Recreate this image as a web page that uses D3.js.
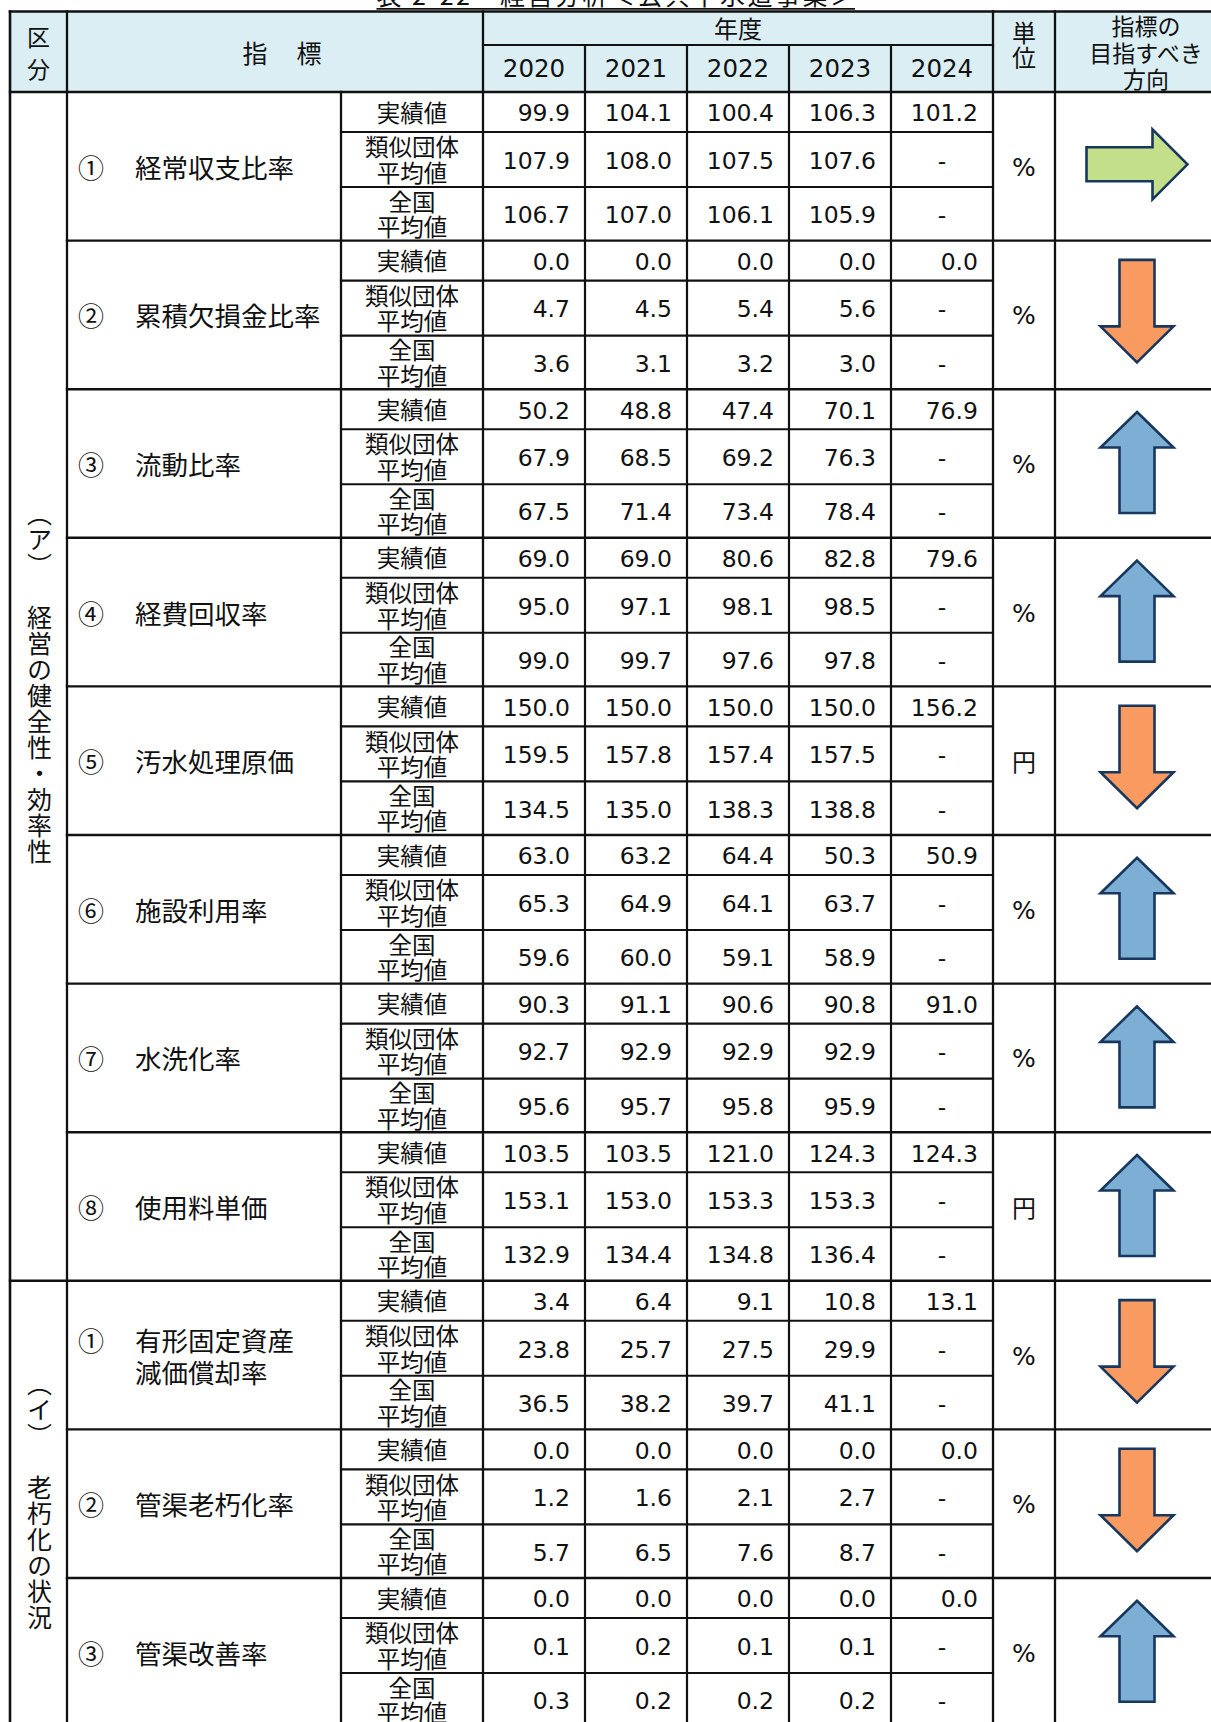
<!DOCTYPE html>
<html><head><meta charset="utf-8">
<script src="https://cdn.jsdelivr.net/npm/d3@7"></script>
<style>body{margin:0;background:#fff;overflow:hidden}svg{display:block}text{text-spacing-trim:space-all}</style>
</head><body><svg id="c" width="1211" height="1722"></svg>
<script>
// ---------- data ----------
const title = "表 2-22　経営分析＜公共下水道事業＞";
const years = [2020, 2021, 2022, 2023, 2024];
const headerSection = ["区", "分"];
const headerIndicator = "指　標";
const headerYear = "年度";
const headerUnit = ["単", "位"];
const headerDirection = ["指標の", "目指すべき", "方向"];
const sections = [
  { label: "（ア）　経営の健全性・効率性", from: 0, to: 7 },
  { label: "（イ）　老朽化の状況", from: 8, to: 10 }
];
const indicatorNo = ["①", "②", "③", "④", "⑤", "⑥", "⑦", "⑧", "①", "②", "③"];
const indicatorNames = [
  ["経常収支比率"], ["累積欠損金比率"], ["流動比率"], ["経費回収率"],
  ["汚水処理原価"], ["施設利用率"], ["水洗化率"], ["使用料単価"],
  ["有形固定資産", "減価償却率"], ["管渠老朽化率"], ["管渠改善率"]
];
const units = ["%", "%", "%", "%", "円", "%", "%", "円", "%", "%", "%"];
const directions = ["right", "down", "up", "up", "down", "up", "up", "up", "down", "down", "up"];
const rowLabels = [["実績値"], ["類似団体", "平均値"], ["全国", "平均値"]];
const actualValues = [
  [99.9, 104.1, 100.4, 106.3, 101.2],
  [0.0, 0.0, 0.0, 0.0, 0.0],
  [50.2, 48.8, 47.4, 70.1, 76.9],
  [69.0, 69.0, 80.6, 82.8, 79.6],
  [150.0, 150.0, 150.0, 150.0, 156.2],
  [63.0, 63.2, 64.4, 50.3, 50.9],
  [90.3, 91.1, 90.6, 90.8, 91.0],
  [103.5, 103.5, 121.0, 124.3, 124.3],
  [3.4, 6.4, 9.1, 10.8, 13.1],
  [0.0, 0.0, 0.0, 0.0, 0.0],
  [0.0, 0.0, 0.0, 0.0, 0.0]
];
const similarValues = [
  [107.9, 108.0, 107.5, 107.6, null],
  [4.7, 4.5, 5.4, 5.6, null],
  [67.9, 68.5, 69.2, 76.3, null],
  [95.0, 97.1, 98.1, 98.5, null],
  [159.5, 157.8, 157.4, 157.5, null],
  [65.3, 64.9, 64.1, 63.7, null],
  [92.7, 92.9, 92.9, 92.9, null],
  [153.1, 153.0, 153.3, 153.3, null],
  [23.8, 25.7, 27.5, 29.9, null],
  [1.2, 1.6, 2.1, 2.7, null],
  [0.1, 0.2, 0.1, 0.1, null]
];
const nationalValues = [
  [106.7, 107.0, 106.1, 105.9, null],
  [3.6, 3.1, 3.2, 3.0, null],
  [67.5, 71.4, 73.4, 78.4, null],
  [99.0, 99.7, 97.6, 97.8, null],
  [134.5, 135.0, 138.3, 138.8, null],
  [59.6, 60.0, 59.1, 58.9, null],
  [95.6, 95.7, 95.8, 95.9, null],
  [132.9, 134.4, 134.8, 136.4, null],
  [36.5, 38.2, 39.7, 41.1, null],
  [5.7, 6.5, 7.6, 8.7, null],
  [0.3, 0.2, 0.2, 0.2, null]
];

// ---------- layout ----------
const L = { left: 10, sec: 67, lab: 341, sub: 483, unit: 993, dir: 1055, right: 1237,
            top: 11.5, split: 45, head: 92, groupH: 148.6 };
const subTop = [0, 40, 95], subH = [40, 55, 53.6];
const JP = "'Noto Sans CJK JP', 'Noto Sans CJK SC', sans-serif";
const NUM = "'DejaVu Sans', Verdana, sans-serif";
const INK = "#111";
const arrowColors = { up: "#7DAFD5", down: "#F99A60", right: "#C4DF8A" };
const arrowStroke = "#17375E";

const svg = d3.select("#c");
const n = indicatorNames.length;
const x = d3.scaleBand().domain(years).range([L.sub, L.unit]);
const gy = d3.scaleBand().domain(d3.range(n)).range([L.head, L.head + n * L.groupH]);
const bottom = 1722 + 20;

// multi-line text as one element with tspans
function multiLine(parent, lines, cx, cy, lh, size, family) {
  const t = parent.append("text").attr("x", cx).attr("y", cy)
    .attr("text-anchor", "middle").attr("font-family", family || JP)
    .attr("font-size", size).attr("fill", INK);
  lines.forEach((s, k) => t.append("tspan").attr("x", cx)
    .attr("y", cy + (k - (lines.length - 1) / 2) * lh).attr("dominant-baseline", "central").text(s));
  return t;
}

// header background
svg.append("rect").attr("x", L.left).attr("y", L.top)
  .attr("width", L.right - L.left).attr("height", L.head - L.top).attr("fill", "#DAEEF3");

// title (top cut off)
const tX0 = 376.5, tX1 = 855;
svg.append("text").attr("x", tX0).attr("y", 5).attr("font-family", JP).attr("font-size", 25)
  .attr("fill", INK).attr("textLength", tX1 - tX0).attr("lengthAdjust", "spacing").text(title);
svg.append("line").attr("x1", tX0).attr("x2", tX1).attr("y1", 8.8).attr("y2", 8.8)
  .attr("stroke", INK).attr("stroke-width", 1.8);

// ---------- grid lines ----------
const segs = [];
segs.push([L.left, L.top, L.right, L.top, 2.6]);
segs.push([L.left, L.head, L.right, L.head, 2.4]);
segs.push([L.sub, L.split, L.unit, L.split, 2.2]);
const sectionStarts = new Set(sections.map(s => s.from));
d3.range(1, n).forEach(i => {
  segs.push([sectionStarts.has(i) ? L.left : L.sec, gy(i), L.right, gy(i), 2.4]);
});
d3.range(n).forEach(i => {
  [1, 2].forEach(k => segs.push([L.lab, gy(i) + subTop[k], L.unit, gy(i) + subTop[k], 2.1]));
});
[L.left, L.sec, L.sub, L.unit, L.dir, L.right].forEach(xx => segs.push([xx, L.top, xx, bottom, xx === L.left ? 2.6 : 2.3]));
segs.push([L.lab, L.head, L.lab, bottom, 2.3]);
years.slice(1).forEach(yr => segs.push([x(yr), L.split, x(yr), bottom, 2.2]));

svg.append("g").selectAll("line").data(segs).join("line")
  .attr("x1", d => d[0]).attr("y1", d => d[1]).attr("x2", d => d[2]).attr("y2", d => d[3])
  .attr("stroke", INK).attr("stroke-width", d => d[4]).attr("stroke-linecap", "square");

// ---------- header text ----------
const hdr = svg.append("g");
multiLine(hdr, headerSection, (L.left + L.sec) / 2, 52, 32, 23);
multiLine(hdr, [headerIndicator], (L.sec + L.sub) / 2 + 8, 52, 0, 25).attr("letter-spacing", 2);
multiLine(hdr, [headerYear], (L.sub + L.unit) / 2, 27, 0, 24);
multiLine(hdr, headerUnit, (L.unit + L.dir) / 2, 43.5, 25, 24);
multiLine(hdr, headerDirection, (L.dir + L.right) / 2, 51.5, 26.5, 23);
svg.append("g").selectAll("text").data(years).join("text")
  .attr("x", d => x(d) + x.bandwidth() / 2).attr("y", 77.3)
  .attr("text-anchor", "middle").attr("font-family", NUM).attr("font-size", 24.5).attr("fill", INK)
  .text(d => d);

// ---------- section labels (vertical writing) ----------
sections.forEach(s => {
  const cy = (gy(s.from) + gy(s.to) + L.groupH) / 2 - 3;
  svg.append("text")
    .attr("x", (L.left + L.sec) / 2 + 1).attr("y", cy)
    .attr("text-anchor", "middle")
    .style("writing-mode", "vertical-rl")
    .style("text-spacing-trim", "space-all")
    .attr("letter-spacing", 1)
    .attr("font-family", JP).attr("font-size", 25).attr("fill", INK).text(s.label);
});

// ---------- indicator groups ----------
const seriesRows = [actualValues, similarValues, nationalValues];
d3.range(n).forEach(i => {
  const g0 = gy(i), gc = g0 + L.groupH / 2;
  const grp = svg.append("g");
  // main label
  const lines = indicatorNames[i];
  const lh = 32;
  const firstY = gc - (lines.length - 1) * lh / 2;
  grp.append("text").attr("x", 78).attr("y", firstY).attr("dominant-baseline", "central")
    .attr("font-family", JP).attr("font-size", 26).attr("fill", INK).text(indicatorNo[i]);
  const nm = grp.append("text").attr("font-family", JP).attr("font-size", 26.5).attr("fill", INK);
  lines.forEach((s, k) => nm.append("tspan").attr("x", 135).attr("y", firstY + k * lh)
    .attr("dominant-baseline", "central").text(s));
  // sub rows
  rowLabels.forEach((rl, r) => {
    const rc = g0 + subTop[r] + subH[r] / 2;
    multiLine(grp, rl, (L.lab + L.sub) / 2, rc - 0.5, 25.5, 23.5);
    const vals = seriesRows[r][i];
    grp.append("g").selectAll("text").data(years.map((yr, k) => ({ yr, v: vals[k] }))).join("text")
      .attr("x", d => d.v == null ? x(d.yr) + x.bandwidth() / 2 : x(d.yr) + x.bandwidth() - 15)
      .attr("y", rc + 9.3)
      .attr("text-anchor", d => d.v == null ? "middle" : "end")
      .attr("font-family", NUM).attr("font-size", 23.5).attr("fill", INK)
      .text(d => d.v == null ? "-" : d3.format(".1f")(d.v));
  });
  // unit
  const isPct = units[i] === "%";
  grp.append("text").attr("x", (L.unit + L.dir) / 2).attr("y", isPct ? gc + 9.5 : gc)
    .attr("text-anchor", "middle").attr("dominant-baseline", isPct ? "auto" : "central")
    .attr("font-family", isPct ? NUM : JP).attr("font-size", isPct ? 25 : 24).attr("fill", INK)
    .text(units[i]);
  // arrow
  const ax = (L.dir + L.right) / 2 - 9;
  const p = d3.path();
  const dir = directions[i];
  let pts;
  if (dir === "up") {
    pts = [[0, -51.5], [36.5, -16], [17.5, -16], [17.5, 49.5], [-17.5, 49.5], [-17.5, -16], [-36.5, -16]];
  } else if (dir === "down") {
    pts = [[0, 47.5], [36.5, 11.5], [17.5, 11.5], [17.5, -55], [-17.5, -55], [-17.5, 11.5], [-36.5, 11.5]];
  } else {
    pts = [[50.5, -2], [15.5, -37], [15.5, -19], [-50.5, -19], [-50.5, 15], [15.5, 15], [15.5, 33]];
  }
  pts.forEach((pt, k) => k ? p.lineTo(ax + pt[0], gc + pt[1]) : p.moveTo(ax + pt[0], gc + pt[1]));
  p.closePath();
  grp.append("path").attr("d", p.toString()).attr("fill", arrowColors[dir])
    .attr("stroke", arrowStroke).attr("stroke-width", 2.6).attr("stroke-linejoin", "miter");
});
</script>
</body></html>
